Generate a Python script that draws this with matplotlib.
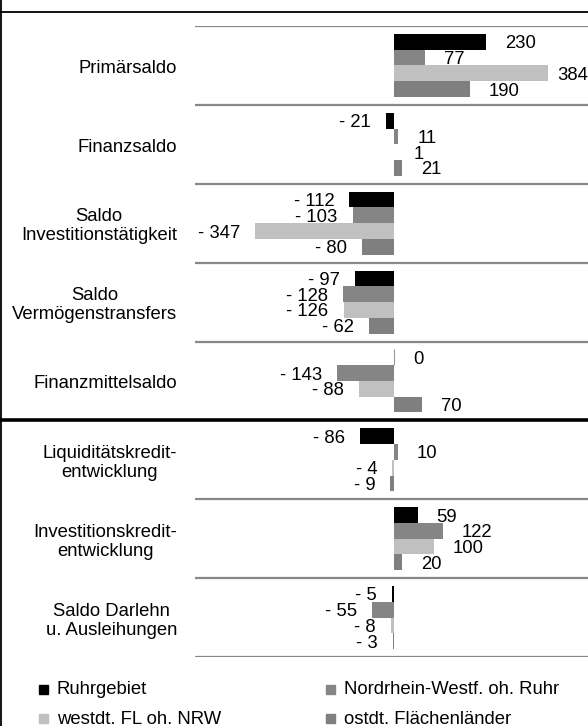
import numpy as np
import matplotlib
matplotlib.use("Agg")
import matplotlib.pyplot as plt
from matplotlib.lines import Line2D
from matplotlib.patches import Rectangle

plt.rcParams["font.family"] = ["Liberation Sans", "DejaVu Sans"]

# --------------------------------------------------------------------------------
# DATA

groups = ["Primärsaldo", "Finanzsaldo", "Saldo\nInvestitionstätigkeit",
          "Saldo\nVermögenstransfers", "Finanzmittelsaldo",
          "Liquiditätskredit-\nentwicklung", "Investitionskredit-\nentwicklung",
          "Saldo Darlehn\nu. Ausleihungen"]

series = ["Ruhrgebiet", "Nordrhein-Westf. oh. Ruhr",
          "westdt. FL oh. NRW", "ostdt. Flächenländer"]

ruhr = [230, -21, -112, -97, 0, -86, 59, -5]
nrw = [77, 11, -103, -128, -143, 10, 122, -55]
westdt = [384, 1, -347, -126, -88, -4, 100, -8]
ostdt = [190, 21, -80, -62, 70, -9, 20, -3]

colors = ["#000000", "#858585", "#c0c0c0", "#7f7f7f"]

# --------------------------------------------------------------------------------
# LAYOUT (pixels)

W, H = 588, 726
fs = 13.3

fig = plt.figure(figsize=(W / 100, H / 100), dpi=100)
fig.patch.set_facecolor("white")


def fx(px):
    return px / W


def fy(py):
    return 1 - py / H


ax_left, ax_top, ax_bot = 195, 26, 657
ax = fig.add_axes([fx(ax_left), fy(ax_bot), 1 - fx(ax_left), (ax_bot - ax_top) / H])
ax.set_xlim(-(394 - ax_left) / 0.4, (W - 394) / 0.4)
ax.set_ylim(len(groups), 0)
ax.axis("off")

bar_h = 0.2
all_vals = [ruhr, nrw, westdt, ostdt]
r = fig.canvas.get_renderer()
for j, vals in enumerate(all_vals):
    y = np.arange(len(groups)) + 0.1 + bar_h * (j + 0.5)
    edges = ["#999999" if v == 0 else "none" for v in vals]
    ax.barh(y, vals, height=bar_h, color=colors[j], edgecolor=edges, linewidth=0.8)
    for yi, v in zip(y, vals):
        if v < 0:
            t = ax.annotate("- %d" % abs(v), (v, yi), xytext=(-15, -2),
                            textcoords="offset pixels", ha="right", va="center",
                            fontsize=fs)
        else:
            t = ax.annotate("%d" % v, (v, yi), xytext=(19, -2),
                            textcoords="offset pixels", ha="left", va="center",
                            fontsize=fs)
            # keep label inside the figure
            bb = t.get_window_extent(r)
            if bb.x1 > W:
                t.set_position((W - bb.x1 + 19, -2))

# separators
for i in range(len(groups) + 1):
    if i == 5:
        continue
    ax.axhline(i, color="#888888", lw=1.6)

# thick line between the two blocks, top line and left border
fig.add_artist(Line2D([0, 1], [fy(420), fy(420)], color="black", lw=2.6))
fig.add_artist(Line2D([0, 1], [fy(11.5), fy(11.5)], color="black", lw=1.3))
fig.add_artist(Line2D([fx(1), fx(1)], [0, 1], color="black", lw=1.3))

# group labels
for i, g in enumerate(groups):
    fig.text(fx(177), fy(ax_top + (i + 0.5) * (ax_bot - ax_top) / len(groups) + 3), g,
             ha="right", va="center", multialignment="center", fontsize=fs,
             linespacing=1.15)

# legend
leg_pos = [(39, 689), (326, 689), (39, 718), (326, 718)]
for (lx, ly), name, c in zip(leg_pos, series, colors):
    fig.add_artist(Rectangle((fx(lx), fy(ly + 4.5)), 9 / W, 9 / H, color=c,
                             transform=fig.transFigure))
    fig.text(fx(lx + 18), fy(ly + 1), name, ha="left", va="center", fontsize=fs)

fig.savefig("out.png", dpi=100)
